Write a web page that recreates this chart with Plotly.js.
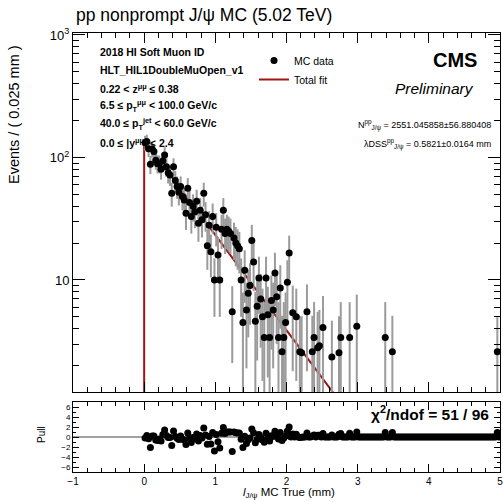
<!DOCTYPE html>
<html>
<head>
<meta charset="utf-8">
<script src="https://cdn.plot.ly/plotly-3.0.1.min.js"></script>
<style>html,body{margin:0;padding:0;background:#fff;}#chart{width:503px;height:502px;}</style>
</head>
<body>
<div id="chart"></div>
<script>
// ---- data ----
const binLow = 0.0;
const binWidth = 0.025;
const dataBin = [0,1,2,3,4,5,6,7,8,9,10,11,12,13,14,15,16,17,18,19,20,21,22,23,24,25,26,27,28,29,30,31,32,33,34,35,36,37,38,39,40,41,42,43,44,45,46,47,48,49,50,51,52,53,54,55,56,57,58,59,60,61,62,63,64,65,66,67,68,69,70,71,72,73,74,75,76,77,78,79,80,81,83,85,87,88,91,94,95,97,98,100,105,109,110,115,119,135,139,198];
const dataY = [132,135,118,88,117,112,95,89,89,80,
  94,105,84,75,72,51,84,65,58,52,
  58,48,45,35,56,43,33,40,36,44,
  29,37,31,51,34,19,28,17,33,10,
  27,16,10,26,37,24,26,25,24,5.5,
  22,20,19,18,10,4.5,12,5.7,7.8,9,
  21,14,4.6,6.1,10.4,7,5.0,3.4,10.4,5.2,
  3.4,6.8,5.7,11.4,7.3,3.4,8.6,2.6,3.4,4.5,
  9.6,16.6,
  5.4,5.0,2.6,2.55,5.5,2.6,3.4,2.8,2.9,4.1,2.35,2.55,3.4,3.4,4.2,3.4,2.6,2.6];
const dataErr = [18.2,18.4,17.2,14.8,17.1,16.7,15.4,14.9,14.9,14.1,
  15.3,16.2,14.5,13.7,13.4,11.3,14.5,12.7,12.0,11.4,
  12.0,11.0,10.6,9.4,11.8,10.4,9.1,10.0,9.5,10.5,
  8.5,9.6,8.8,11.3,9.2,6.9,8.4,6.5,9.1,5.0,
  8.2,6.3,5.0,8.1,9.6,7.7,8.1,7.9,7.7,3.4,
  7.4,7.1,6.9,6.7,5.0,3.4,5.5,3.8,4.4,4.7,
  7.2,5.9,3.4,3.9,5.1,4.2,3.5,3.2,5.1,3.6,
  3.2,4.1,3.8,5.3,4.3,3.2,4.6,2.5,3.2,3.4,
  4.9,6.4,
  3.6,3.5,2.5,2.5,3.7,2.5,3.2,2.7,2.8,3.3,2.3,2.5,3.2,3.2,3.4,3.2,2.5,2.5];
// total fit curve (exponential decay starting at 0)
const fitX = [0, 0, 2.8];
const fitY = [0.5, 139, 0.93];
// pulls, one per bin (200 bins from 0 to 5 mm)
const pullValues = [
  -0.2,0.3,-0.35,-2.1,0.2,0.2,-0.6,-0.7,-0.4,-0.8,
  0.5,1.4,0.3,-0.1,-0.1,-1.7,1.2,0.1,-0.25,-0.5,
  0.2,-0.45,-0.6,-1.5,0.8,-0.2,-1.1,-0.1,-0.3,0.6,
  -0.8,0.3,-0.2,1.8,0.4,-1.45,0.1,-1.4,0.9,-2.8,
  0.5,-0.95,-2.2,0.75,1.9,0.7,1.0,1.0,1.0,-2.9,
  1.0,0.85,0.8,0.8,-0.45,-2.1,0.15,-1.3,-0.55,-0.2,
  1.6,0.85,-1.15,-0.5,0.5,-0.1,-0.6,-1.05,0.75,-0.3,
  -0.8,0.25,0.1,1.15,0.55,-0.4,0.9,-0.7,-0.2,0.2,
  1.2,2.0,0,0.6,0,0.55,0,-0.1,-0.05,0,
  0,0.8,0,0,0.2,0.4,0,0.35,0.35,0,
  0.7,0,0,0,0,0.4,0,0,0,0.55,
  0.7,0,0,0,0,0.75,0,0,0,1.0,
  0,0,0,0,0,0,0,0,0,0,
  0,0,0,0,0,0.9,0,0,0,0.9,
  0,0,0,0,0,0,0,0,0,0,
  0,0,0,0,0,0,0,0,0,0,
  0,0,0,0,0,0,0,0,0,0,
  0,0,0,0,0,0,0,0,0,0,
  0,0,0,0,0,0,0,0,0,0,
  0,0,0,0,0,0,0,0,0.9,0];
const yTickVals = [10, 100, 1000];
const yTickText = ['10', '10<sup>2</sup>', '10<sup>3</sup>'];
const yMinorVals = [2,3,4,5,6,7,8,9,20,30,40,50,60,70,80,90,200,300,400,500,600,700,800,900];
const pullTickVals = [-6,-4,-2,0,2,4,6];
const xTickVals = [-1,0,1,2,3,4,5];
const xTickText = ['−1','0','1','2','3','4','5'];
const infoLines = [
  '2018 HI Soft Muon ID',
  'HLT_HIL1DoubleMuOpen_v1',
  '0.22 < z<sup>μμ</sup> ≤ 0.38',
  '6.5 ≤ p<sub>T</sub><sup>μμ</sup> < 100.0 GeV/c',
  '40.0 ≤ p<sub>T</sub><sup>jet</sup> < 60.0 GeV/c',
  '0.0 ≤ |y<sup>μμ</sup>| < 2.4'
];
const fitParams = [
  'N<sup>pp</sup><sub>J/ψ</sub> = 2551.045858±56.880408',
  'λDSS<sup>pp</sup><sub>J/ψ</sub> = 0.5821±0.0164 mm'
];

// ---- build ----
const binCenter = k => binLow + (k + 0.5) * binWidth;
const dataX = dataBin.map(binCenter);
const pullX = pullValues.map((v, k) => binCenter(k));

const FONT = 'Liberation Sans, Arial, Helvetica, sans-serif';
const W = 503, H = 502, ML = 73, MR = 3, MT = 33, MB = 30;
const PW = W - ML - MR, PH = H - MT - MB;
const px = x => (x - ML) / PW;
const py = y => (H - MB - y) / PH;

const traces = [
  {
    x: fitX, y: fitY, type: 'scatter', mode: 'lines', name: 'Total fit',
    line: {color: 'rgb(160,20,20)', width: 2}, xaxis: 'x', yaxis: 'y'
  },
  {
    x: dataX, y: dataY, type: 'scatter', mode: 'markers', name: 'MC data',
    marker: {color: 'black', size: 7},
    error_y: {type: 'data', array: dataErr, visible: true, color: 'rgb(155,155,155)', thickness: 2, width: 0},
    xaxis: 'x', yaxis: 'y'
  },
  {
    x: pullX, y: pullValues, type: 'scatter', mode: 'markers', showlegend: false,
    marker: {color: 'black', size: 7}, xaxis: 'x2', yaxis: 'y2'
  }
];

const baseAxis = {
  showline: true, linecolor: 'black', linewidth: 1, mirror: 'ticks',
  ticks: 'inside', tickcolor: 'black', showgrid: false, zeroline: false,
  tickfont: {family: FONT, size: 11, color: 'black'}
};

const annotations = [];
infoLines.forEach((t, i) => {
  annotations.push({xref: 'paper', yref: 'paper', x: px(98), y: py(52 + i * 18),
    xanchor: 'left', yanchor: 'middle', showarrow: false, text: '<b>' + t + '</b>',
    font: {family: FONT, size: 10.5, color: 'black'}});
});
fitParams.forEach((t, i) => {
  annotations.push({xref: 'paper', yref: 'paper', x: px(493), y: py(125 + i * 19),
    xanchor: 'right', yanchor: 'middle', showarrow: false, text: t,
    font: {family: FONT, size: 9, color: 'black'}});
});
annotations.push(
  {xref: 'paper', yref: 'paper', x: px(479), y: py(60), xanchor: 'right', yanchor: 'middle',
   showarrow: false, text: '<b>CMS</b>', font: {family: FONT, size: 20, color: 'black'}},
  {xref: 'paper', yref: 'paper', x: px(476), y: py(88), xanchor: 'right', yanchor: 'middle',
   showarrow: false, text: '<i>Preliminary</i>', font: {family: FONT, size: 15.5, color: 'black'}},
  {xref: 'paper', yref: 'paper', x: px(491), y: py(413), xanchor: 'right', yanchor: 'middle',
   showarrow: false, text: '<b>χ<sup>2</sup>/ndof = 51 / 96</b>', font: {family: FONT, size: 15.5, color: 'black'}},
  {xref: 'paper', yref: 'paper', x: px(14), y: py(115), xanchor: 'center', yanchor: 'middle',
   showarrow: false, textangle: -90, text: 'Events / ( 0.025 mm )', font: {family: FONT, size: 14.5, color: 'black'}},
  {xref: 'paper', yref: 'paper', x: px(41), y: py(435), xanchor: 'center', yanchor: 'middle',
   showarrow: false, textangle: -90, text: 'Pull', font: {family: FONT, size: 10, color: 'black'}},
  {xref: 'paper', yref: 'paper', x: px(289), y: py(502), xanchor: 'center', yanchor: 'bottom',
   showarrow: false, text: '<i>l</i><sub>J/ψ</sub> MC True (mm)', font: {family: FONT, size: 11.5, color: 'black'}},
  {xref: 'paper', yref: 'paper', x: px(74), y: py(15), xanchor: 'left', yanchor: 'middle',
   showarrow: false, text: 'pp nonprompt J/ψ MC (5.02 TeV)', font: {family: FONT, size: 17.5, color: 'black'}}
);

const layout = {
  width: W, height: H,
  margin: {l: ML, r: MR, t: MT, b: MB, pad: 0},
  paper_bgcolor: 'white', plot_bgcolor: 'white',
  font: {family: FONT, color: 'black'},
  showlegend: true,
  legend: {x: px(254), y: py(46), xanchor: 'left', yanchor: 'top', bgcolor: 'rgba(0,0,0,0)',
           font: {family: FONT, size: 10.5, color: 'black'}, traceorder: 'reversed',
           tracegroupgap: 0, itemwidth: 30},
  xaxis: Object.assign({}, baseAxis, {
    domain: [0, 1], anchor: 'y', range: [-1, 5], tick0: 0, dtick: 1, ticklen: 10,
    showticklabels: false,
    minor: {dtick: 0.2, tick0: 0, ticklen: 5, ticks: 'inside', tickcolor: 'black'}
  }),
  yaxis: Object.assign({}, baseAxis, {
    domain: [py(392), 1], anchor: 'x', type: 'log', range: [0.0857, 3.016],
    tickmode: 'array', tickvals: yTickVals, ticktext: yTickText, ticklen: 12,
    tickfont: {family: FONT, size: 13, color: 'black'},
    minor: {tickmode: 'array', tickvals: yMinorVals, ticklen: 6, ticks: 'inside', tickcolor: 'black'}
  }),
  xaxis2: Object.assign({}, baseAxis, {
    domain: [0, 1], anchor: 'y2', range: [-1, 5],
    tickmode: 'array', tickvals: xTickVals, ticktext: xTickText, ticklen: 8,
    ticklabeloverflow: 'allow',
    tickfont: {family: FONT, size: 10, color: 'black'},
    minor: {dtick: 0.2, tick0: 0, ticklen: 4, ticks: 'inside', tickcolor: 'black'}
  }),
  yaxis2: Object.assign({}, baseAxis, {
    domain: [0, py(402)], anchor: 'x2', range: [-7, 7],
    tickmode: 'array', tickvals: pullTickVals, ticklen: 6,
    tickfont: {family: FONT, size: 8, color: 'black'},
    minor: {dtick: 1, tick0: 0, ticklen: 3, ticks: 'inside', tickcolor: 'black'}
  }),
  shapes: [
    {type: 'line', xref: 'x2 domain', yref: 'y2', x0: 0, x1: 1, y0: 0, y1: 0,
     line: {color: 'rgb(130,130,130)', width: 1.5}, layer: 'below'}
  ],
  annotations: annotations
};

Plotly.newPlot('chart', traces, layout, {displayModeBar: false, staticPlot: true});
</script>
</body>
</html>
